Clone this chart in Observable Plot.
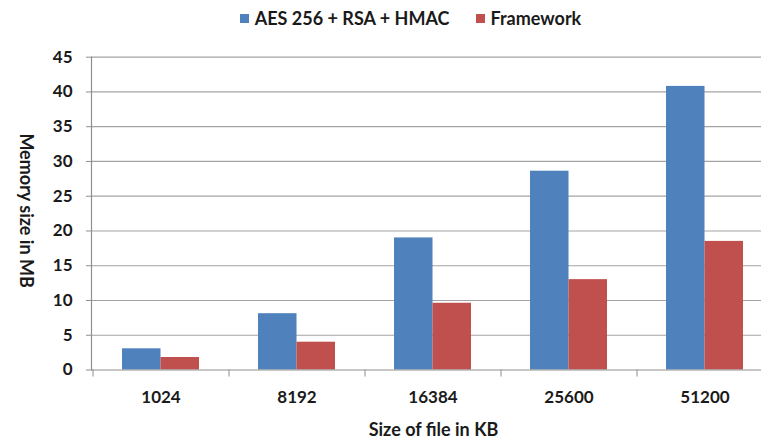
<!DOCTYPE html>
<html>
<head>
<meta charset="utf-8">
<script src="https://cdn.jsdelivr.net/npm/d3@7"></script>
<script src="https://cdn.jsdelivr.net/npm/@observablehq/plot@0.6"></script>
<style>
  html, body { margin: 0; padding: 0; background: #fff; overflow: hidden; }
  #legend {
    height: 36px; box-sizing: border-box; padding-left: 60px;
    display: flex; justify-content: center; align-items: center; gap: 26px;
    font: bold 18px Lato, sans-serif; color: #1a1a1a;
  }
  #legend .item { display: flex; align-items: center; gap: 6px; }
  #legend .swatch { width: 9px; height: 9px; display: inline-block; }
</style>
</head>
<body>
<div id="legend"></div>
<div id="chart"></div>
<script>
// File sizes (KB) on the x axis
const categories = ["1024", "8192", "16384", "25600", "51200"];
// Memory use (MB) per series
const aesValues = [3.05, 8.1, 19.0, 28.6, 40.8];
const frameworkValues = [1.8, 4.0, 9.6, 13.0, 18.5];
const seriesNames = ["AES 256 + RSA + HMAC", "Framework"];
const seriesColors = ["#4F81BD", "#C0504D"];
const yTicks = [0, 5, 10, 15, 20, 25, 30, 35, 40, 45];

const rows = categories.flatMap((size, i) => [
  {size, series: seriesNames[0], value: aesValues[i]},
  {size, series: seriesNames[1], value: frameworkValues[i]}
]);

// Legend above the chart
const legend = document.getElementById("legend");
seriesNames.forEach((name, i) => {
  const item = document.createElement("span");
  item.className = "item";
  const sw = document.createElement("span");
  sw.className = "swatch";
  sw.style.background = seriesColors[i];
  item.appendChild(sw);
  item.appendChild(document.createTextNode(name));
  legend.appendChild(item);
});

// Band layout: the last category band runs slightly past the right edge
const xRange = [92, 772];
const paddingInner = 0.434;
const step = (xRange[1] - xRange[0]) / categories.length;
const bandwidth = step * (1 - paddingInner);
const half = bandwidth / 2;

const chart = Plot.plot({
  width: 761,
  height: 405,
  marginLeft: 91,
  marginRight: 0,
  marginTop: 20.7,
  marginBottom: 71.5,
  style: {fontFamily: "Lato, sans-serif", fontSize: "17px", fontWeight: "bold", background: "white", color: "#1a1a1a"},
  x: {type: "band", domain: categories, range: xRange, paddingInner, paddingOuter: paddingInner / 2, axis: null},
  y: {domain: [0, 45], axis: null},
  color: {domain: seriesNames, range: seriesColors},
  marks: [
    Plot.ruleY(yTicks.filter(d => d > 0), {stroke: "#a3a3a3", strokeWidth: 1.2}),
    Plot.barY(rows.filter(d => d.series === seriesNames[0]), {x: "size", y: "value", fill: "series", insetRight: half}),
    Plot.barY(rows.filter(d => d.series === seriesNames[1]), {x: "size", y: "value", fill: "series", insetLeft: half}),
    Plot.ruleY([0], {stroke: "#8f8f8f", strokeWidth: 1.2}),
    Plot.frame({anchor: "left", stroke: "#8f8f8f", strokeWidth: 1.2}),
    Plot.axisY(yTicks, {tickSize: 5, tickPadding: 14, stroke: "#8f8f8f", fill: "#1a1a1a", fontSize: 17, fontWeight: "bold", label: null}),
    // category separators below the baseline
    Plot.axisX(categories, {tickSize: 7, stroke: "#8f8f8f", tickFormat: () => "", dx: -step / 2, label: null}),
    Plot.axisX(categories, {tickSize: 0, tickPadding: 21, fill: "#1a1a1a", fontSize: 17, fontWeight: "bold", label: null}),
    Plot.text(["Size of file in KB"], {frameAnchor: "bottom", lineAnchor: "top", dy: 53.5, dx: 7, fontSize: 18, fontWeight: "bold", fill: "#1a1a1a"}),
    Plot.text(["Memory size in MB"], {frameAnchor: "left", textAnchor: "middle", rotate: 90, dx: -66, dy: -3, fontSize: 18, fontWeight: "bold", fill: "#1a1a1a"})
  ]
});
document.getElementById("chart").appendChild(chart);
</script>
</body>
</html>
